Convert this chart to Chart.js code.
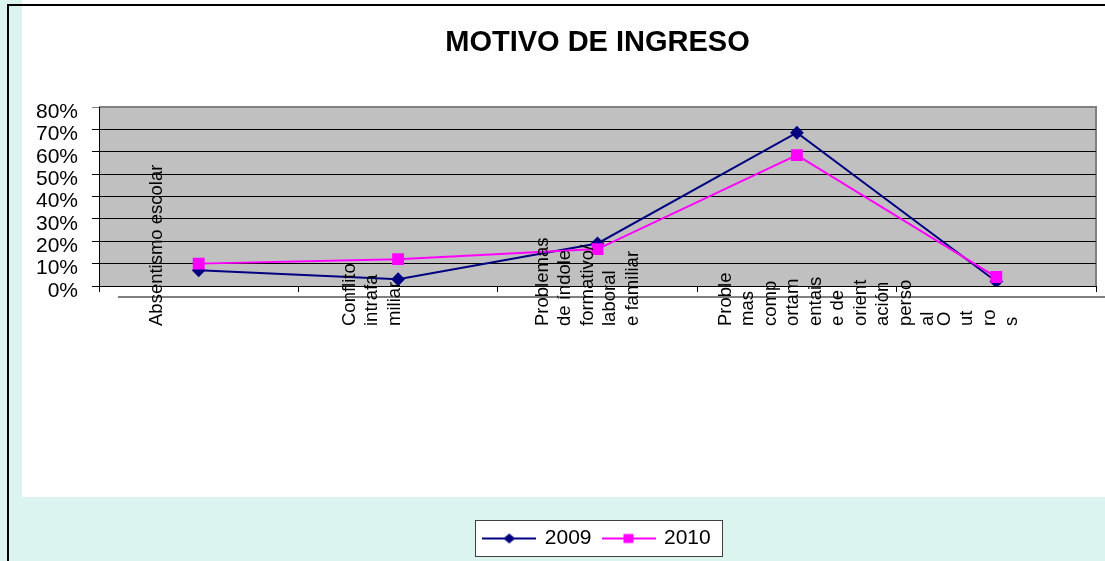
<!DOCTYPE html>
<html><head><meta charset="utf-8">
<script src="https://cdn.jsdelivr.net/npm/chart.js@4"></script>
<style>
html,body{margin:0;padding:0;}
body{width:1105px;height:561px;background:#dcf4ef;position:relative;overflow:hidden;}
#white{position:absolute;left:22px;top:0;width:1083px;height:497px;background:#fff;}
#vline{position:absolute;left:7px;top:4px;width:2px;height:557px;background:#000;}
#hline{position:absolute;left:7px;top:4px;width:1098px;height:2px;background:#000;}
canvas{position:absolute;left:0;top:0;}
</style></head><body>
<div id="white"></div><div id="vline"></div><div id="hline"></div>
<canvas id="c" width="1105" height="561"></canvas>
<script>
const chartTitle = 'MOTIVO DE INGRESO';
const categories = [
  ['Absentismo escolar'],
  ['Conflito', 'intrafa', 'miliar'],
  ['Problemas', 'de índole', 'formativo/', 'laboral', 'e familiar'],
  ['Proble', 'mas', 'comp', 'ortam', 'entais', 'e de', 'orient', 'ación', 'perso', 'al'],
  ['O', 'ut', 'ro', 's']
];
const seriesNames = ['2009', '2010'];
const values2009 = [0.07, 0.03, 0.19, 0.685, 0.02];
const values2010 = [0.10, 0.12, 0.165, 0.585, 0.04];
const yTickLabels = ['0%', '10%', '20%', '30%', '40%', '50%', '60%', '70%', '80%'];

const FONT = "'Liberation Sans', Arial, sans-serif";

function makeIcon(color, shape) {
  const c = document.createElement('canvas');
  c.width = 54; c.height = 14;
  const g = c.getContext('2d');
  g.strokeStyle = color; g.lineWidth = 2;
  g.beginPath(); g.moveTo(0, 7); g.lineTo(54, 7); g.stroke();
  g.fillStyle = color;
  if (shape === 'diamond') {
    g.beginPath(); g.moveTo(21, 7); g.lineTo(27, 2); g.lineTo(33, 7); g.lineTo(27, 12); g.closePath(); g.fill();
  } else {
    g.fillRect(22, 2.5, 10, 9);
  }
  return c;
}
const legendIcons = [makeIcon('#000080', 'diamond'), makeIcon('#ff00ff', 'square')];

const deco = {
  id: 'deco',
  beforeDraw(chart) {
    const {ctx, chartArea: a} = chart;
    ctx.save();
    ctx.fillStyle = '#c0c0c0';
    ctx.fillRect(a.left, a.top, a.right - a.left, a.bottom - a.top);
    ctx.strokeStyle = '#808080'; ctx.lineWidth = 2;
    ctx.beginPath(); ctx.moveTo(a.left, a.top); ctx.lineTo(a.right, a.top); ctx.lineTo(a.right, a.bottom); ctx.stroke();
    ctx.beginPath(); ctx.moveTo(a.left + 19, a.bottom + 11); ctx.lineTo(chart.width, a.bottom + 11); ctx.stroke();
    const hb = chart.legend && chart.legend.legendHitBoxes;
    if (hb && hb.length) {
      const last = hb[hb.length - 1];
      const l = Math.round(hb[0].left - 9), r = Math.round(last.left + last.width + 12);
      const t = Math.round(hb[0].top - 8), b = Math.round(hb[0].top + hb[0].height + 8);
      ctx.fillStyle = '#fff'; ctx.fillRect(l, t, r - l, b - t);
      ctx.strokeStyle = '#404040'; ctx.lineWidth = 1; ctx.strokeRect(l + 0.5, t + 0.5, r - l - 1, b - t - 1);
    }
    ctx.restore();
  },
  afterDraw(chart) {
    const xs = chart.scales.x, ctx = chart.ctx, a = chart.chartArea;
    ctx.save();
    ctx.font = '18.5px ' + FONT;
    ctx.fillStyle = '#000'; ctx.textAlign = 'left'; ctx.textBaseline = 'middle';
    const lh = 22.5, baseY = a.bottom + 40;
    const slot = (a.right - a.left) / xs.getLabels().length;
    xs.getLabels().forEach((lines, i) => {
      const n = lines.length;
      const center = xs.getPixelForTick(i) + slot * (-0.25 + 0.04 * n);
      const first = center - (n - 1) * lh / 2;
      lines.forEach((line, j) => {
        const px = first + j * lh;
        ctx.save(); ctx.translate(px, baseY); ctx.rotate(-Math.PI / 2); ctx.fillText(line, 0, 0); ctx.restore();
      });
    });
    ctx.restore();
  }
};

new Chart(document.getElementById('c'), {
  type: 'line',
  data: {
    labels: categories,
    datasets: [
      {label: seriesNames[0], data: values2009, borderColor: '#000080', backgroundColor: '#000080',
       pointStyle: 'rectRot', pointRadius: 5.5, pointHoverRadius: 5.5, borderWidth: 2, tension: 0, order: 1},
      {label: seriesNames[1], data: values2010, borderColor: '#ff00ff', backgroundColor: '#ff00ff',
       pointStyle: 'rect', pointRadius: 7, pointHoverRadius: 7, borderWidth: 2, tension: 0, order: 0}
    ]
  },
  options: {
    responsive: false, animation: false, devicePixelRatio: 1,
    layout: {padding: {left: 0, right: 3, top: 0, bottom: 2}},
    plugins: {
      title: {display: true, text: chartTitle, fullSize: false, color: '#000',
              font: {size: 29, weight: 'bold', family: FONT}, padding: {top: 26, bottom: 46.2}},
      legend: {
        display: true, position: 'bottom', fullSize: false,
        labels: {
          usePointStyle: true, pointStyleWidth: 50, padding: 12, color: '#000',
          font: {size: 21, family: FONT},
          generateLabels(chart) {
            const items = Chart.defaults.plugins.legend.labels.generateLabels(chart);
            items.sort((p, q) => p.datasetIndex - q.datasetIndex);
            items.forEach(it => { it.pointStyle = legendIcons[it.datasetIndex]; });
            return items;
          }
        }
      },
      tooltip: {enabled: false}
    },
    scales: {
      x: {
        type: 'category', offset: true,
        grid: {offset: true, drawOnChartArea: false, drawTicks: true, tickLength: 6, color: '#000'},
        border: {color: '#000'},
        ticks: {display: false},
        afterFit(s) { s.height = 230; }
      },
      y: {
        min: 0, max: 0.8,
        ticks: {stepSize: 0.1, autoSkip: false, callback: (v, i) => yTickLabels[i], font: {size: 21, family: FONT},
                color: '#000', padding: 14, labelOffset: 5},
        grid: {color: c => (c.tick && c.tick.value > 0.79) ? '#808080' : '#000', tickLength: 7, drawTicks: true},
        border: {color: '#000'},
        afterFit(s) { s.width = 99; }
      }
    }
  },
  plugins: [deco]
});
</script>
</body></html>
